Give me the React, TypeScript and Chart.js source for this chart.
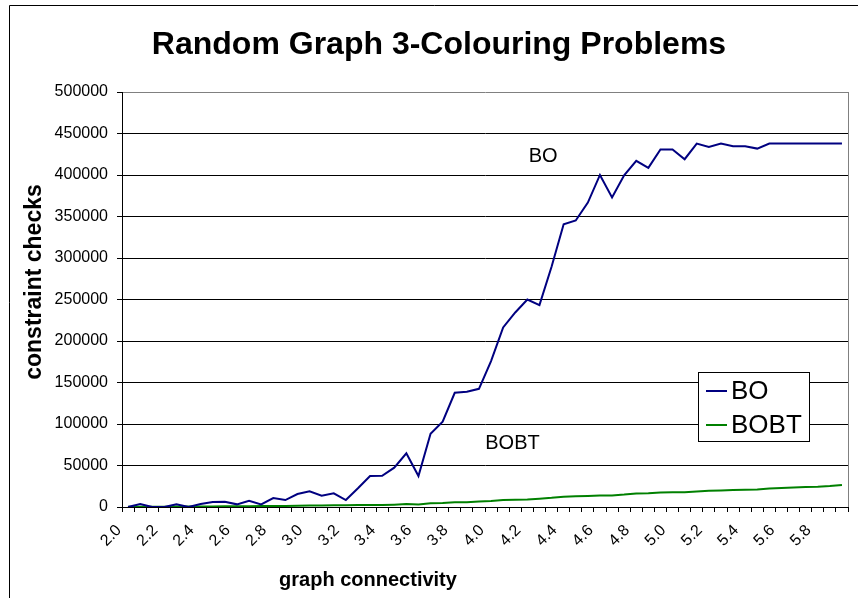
import React, { useEffect, useRef } from 'react';
import { Chart, registerables } from 'chart.js';

Chart.register(...registerables);

const FONT = '"Liberation Sans", Arial, sans-serif';

const titleText = 'Random Graph 3-Colouring Problems';
const xTitle = 'graph connectivity';
const yTitle = 'constraint checks';
const seriesNames = ['BO', 'BOBT'];
const seriesColors = ['#000080', '#008000'];

const categories = [
  '2.00', '2.07', '2.13', '2.20', '2.27', '2.33', '2.40', '2.47', '2.53', '2.60',
  '2.67', '2.73', '2.80', '2.87', '2.93', '3.00', '3.07', '3.13', '3.20', '3.27',
  '3.33', '3.40', '3.47', '3.53', '3.60', '3.67', '3.73', '3.80', '3.87', '3.93',
  '4.00', '4.07', '4.13', '4.20', '4.27', '4.33', '4.40', '4.47', '4.53', '4.60',
  '4.67', '4.73', '4.80', '4.87', '4.93', '5.00', '5.07', '5.13', '5.20', '5.27',
  '5.33', '5.40', '5.47', '5.53', '5.60', '5.67', '5.73', '5.80', '5.87', '5.93',
];

const tickLabels = [
  '2.0', '2.2', '2.4', '2.6', '2.8', '3.0', '3.2', '3.4', '3.6', '3.8',
  '4.0', '4.2', '4.4', '4.6', '4.8', '5.0', '5.2', '5.4', '5.6', '5.8',
];

const boValues = [
  0, 3500, 0, 0, 3200, 0, 3500, 6000, 6400, 3200,
  7600, 3200, 10800, 8400, 15600, 18900, 13600, 16500, 8400, 22500,
  37300, 37700, 47400, 64600, 37300, 88300, 102700, 137600, 138800, 142400,
  175800, 216300, 234400, 250000, 243200, 289400, 340700, 345200, 366800, 400100,
  372900, 399700, 417000, 408600, 430700, 430700, 419000, 437900, 433900, 437900,
  434600, 434600, 431800, 437900, 437900, 437900, 437900, 437900, 437900, 437900,
];

const bobtValues = [
  300, 400, 300, 400, 500, 500, 600, 700, 800, 900,
  1000, 1100, 1200, 1300, 1500, 1700, 1900, 2000, 2200, 2300,
  2300, 2400, 2800, 3500, 3100, 4400, 4800, 5600, 5800, 6600,
  7200, 8400, 8600, 9000, 10000, 11000, 12400, 13000, 13400, 14000,
  14000, 15000, 16400, 16600, 17600, 17800, 17800, 18600, 19600, 20000,
  20400, 20800, 21200, 22400, 23000, 23400, 24000, 24400, 25200, 26400,
];

const yMax = 500000;
const yStep = 50000;

// text annotations placed in data coordinates (category index, value)
const boNote = { index: 34.3, value: 422000, text: 'BO' };
const bobtNote = { index: 31.77, value: 76500, text: 'BOBT' };

const decorPlugin = {
  id: 'decor',
  beforeDraw(chart: any) {
    const { ctx, width, height } = chart;
    ctx.save();
    ctx.fillStyle = '#ffffff';
    ctx.fillRect(0, 0, width, height);
    // outer chart border (only top and left edges are inside the view)
    ctx.strokeStyle = '#000000';
    ctx.lineWidth = 1;
    ctx.beginPath();
    ctx.moveTo(9.5, height + 10);
    ctx.lineTo(9.5, 5.5);
    ctx.lineTo(width + 10, 5.5);
    ctx.stroke();
    ctx.restore();
  },
  beforeDatasetsDraw(chart: any) {
    const { ctx, chartArea } = chart;
    ctx.save();
    ctx.strokeStyle = '#808080';
    ctx.lineWidth = 1;
    const rx = Math.round(chartArea.right) + 0.5;
    ctx.beginPath();
    ctx.moveTo(rx, chartArea.top);
    ctx.lineTo(rx, chartArea.bottom);
    ctx.stroke();
    ctx.restore();
  },
  afterDatasetsDraw(chart: any) {
    const { ctx } = chart;
    const xs = chart.scales.x;
    const ys = chart.scales.y;
    ctx.save();
    ctx.fillStyle = '#000000';
    ctx.font = `20px ${FONT}`;
    ctx.textAlign = 'center';
    ctx.textBaseline = 'middle';
    for (const n of [boNote, bobtNote]) {
      ctx.fillText(n.text, xs.getPixelForValue(n.index), ys.getPixelForValue(n.value));
    }

    // legend box
    const lx = 698.5, ly = 372.5, lw = 111, lh = 69;
    ctx.fillStyle = '#ffffff';
    ctx.fillRect(lx, ly, lw, lh);
    ctx.strokeStyle = '#000000';
    ctx.lineWidth = 1;
    ctx.strokeRect(lx, ly, lw, lh);
    ctx.font = `26px ${FONT}`;
    ctx.textAlign = 'left';
    ctx.textBaseline = 'middle';
    chart.data.datasets.forEach((ds: any, i: number) => {
      const cy = 391 + i * 34;
      ctx.strokeStyle = ds.borderColor;
      ctx.lineWidth = 2;
      ctx.beginPath();
      ctx.moveTo(706, cy);
      ctx.lineTo(727, cy);
      ctx.stroke();
      ctx.fillStyle = '#000000';
      ctx.fillText(ds.label, 731, cy + 1);
    });
    ctx.restore();
  },
  afterDraw(chart: any) {
    const { ctx } = chart;
    ctx.save();
    ctx.fillStyle = '#000000';
    ctx.textAlign = 'center';
    ctx.textBaseline = 'alphabetic';
    ctx.font = `bold 32px ${FONT}`;
    ctx.fillText(titleText, 439, 54);
    ctx.font = `bold 20px ${FONT}`;
    ctx.fillText(xTitle, 368, 586);
    ctx.font = `bold 23px ${FONT}`;
    ctx.translate(41, 282);
    ctx.rotate(-Math.PI / 2);
    ctx.fillText(yTitle, 0, 0);
    ctx.restore();
  },
};

export default function App() {
  const ref = useRef<HTMLCanvasElement | null>(null);

  useEffect(() => {
    if (!ref.current) return;
    const chart = new Chart(ref.current, {
      type: 'line',
      data: {
        labels: categories,
        datasets: [
          {
            label: seriesNames[0],
            data: boValues,
            borderColor: seriesColors[0],
            backgroundColor: seriesColors[0],
            borderWidth: 2,
            pointRadius: 0,
            tension: 0,
          },
          {
            label: seriesNames[1],
            data: bobtValues,
            borderColor: seriesColors[1],
            backgroundColor: seriesColors[1],
            borderWidth: 2,
            pointRadius: 0,
            tension: 0,
          },
        ],
      },
      options: {
        animation: false,
        responsive: false,
        events: [],
        layout: { padding: { top: 92, right: 10, left: 0, bottom: 0 } },
        plugins: {
          legend: { display: false },
          title: { display: false },
          tooltip: { enabled: false },
        },
        scales: {
          x: {
            type: 'category',
            offset: true,
            afterFit: (s: any) => {
              s.height = 91;
              s.paddingLeft = 0;
              s.paddingRight = 0;
            },
            border: { display: true, color: '#000000', width: 1 },
            grid: {
              offset: true,
              drawOnChartArea: false,
              drawTicks: true,
              tickLength: 5,
              tickColor: '#000000',
            },
            ticks: {
              autoSkip: false,
              minRotation: 45,
              maxRotation: 45,
              padding: 9,
              labelOffset: -9,
              color: '#000000',
              font: { family: FONT, size: 16 },
              callback: (_v: any, i: number) => (i % 3 === 0 ? tickLabels[i / 3] : ''),
            },
          },
          y: {
            min: 0,
            max: yMax,
            afterFit: (s: any) => {
              s.width = 122;
              s.paddingTop = 0;
              s.paddingBottom = 0;
            },
            border: { display: true, color: '#000000', width: 1 },
            grid: {
              color: (c: any) => (c.tick && c.tick.value === yMax ? '#808080' : '#000000'),
              tickColor: '#000000',
              tickLength: 5,
              lineWidth: 1,
            },
            ticks: {
              stepSize: yStep,
              padding: 9,
              color: '#000000',
              font: { family: FONT, size: 16 },
              callback: (v: any) => String(v),
            },
          },
        },
      },
      plugins: [decorPlugin],
    } as any);
    return () => chart.destroy();
  }, []);

  return (
    <div style={{ position: 'fixed', left: 0, top: 0, width: 858, height: 598, overflow: 'hidden', background: '#fff' }}>
      <canvas ref={ref} width={858} height={598} style={{ display: 'block', width: 858, height: 598 }} />
    </div>
  );
}
